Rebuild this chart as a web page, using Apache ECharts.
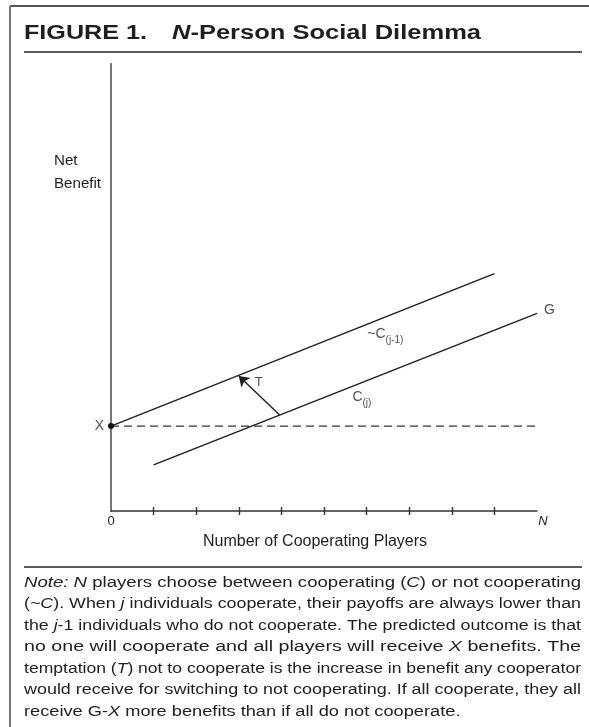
<!DOCTYPE html>
<html><head><meta charset="utf-8">
<script src="https://cdn.jsdelivr.net/npm/echarts@6/dist/echarts.min.js"></script>
<style>html,body{margin:0;padding:0;background:#fff}#c{width:589px;height:727px}</style>
</head><body><div id="c"></div>
<script>
// ---- data (chart coordinates: x = cooperating players 0..N, y = net benefit 0..100) ----
const xTickValues = [1, 2, 3, 4, 5, 6, 7, 8, 9];
const xLabelValues = [0, 10];
const xLabelText = { 0: '0', 10: '{n|N}' };
const nonCooperatorLine = [[0, 19], [9, 53.1]];   // ~C(j-1)
const cooperatorLine = [[1, 10.3], [10, 44.2]];   // C(j)
const equilibriumLine = [[0, 19], [10, 19]];      // X level (dashed)
const temptationArrow = [[3.96, 21.5], [3.0, 30.2]]; // T
const annotationNames = ['{c|~C}{s|(j-1)}', '{c|C}{s|(j)}', '{t|T}'];
const annotationPoints = [[6.44, 39.2], [5.89, 25.1], [3.47, 28.7]];
const endLabels = ['X', 'G'];
const titleLeft = 'FIGURE 1.';
const titleRight = '{i|N}-Person Social Dilemma';
const yAxisName = 'Net\nBenefit';
const xAxisName = 'Number of Cooperating Players';
const noteLines = [
  '{i|Note:} {i|N} players choose between cooperating ({i|C}) or not cooperating',
  '({i|~C}). When {i|j} individuals cooperate, their payoffs are always lower than',
  'the {i|j}-1 individuals who do not cooperate. The predicted outcome is that',
  'no one will cooperate and all players will receive {i|X} benefits. The',
  'temptation ({i|T}) not to cooperate is the increase in benefit any cooperator',
  'would receive for switching to not cooperating. If all cooperate, they all',
  'receive G-{i|X} more benefits than if all do not cooperate.'
];

const FONT = '"Liberation Sans", Arial, Helvetica, sans-serif';
const INK = '#1e1e1e';
const ctx = document.createElement('canvas').getContext('2d');
function measure(str, size, weight) {
  let w = 0; const re = /\{(\w+)\|([^}]*)\}|([^{]+)/g; let m;
  while ((m = re.exec(str))) {
    const italic = m[1] === 'i';
    const t = m[1] ? m[2] : m[3];
    ctx.font = (italic ? 'italic ' : '') + (weight || 'normal') + ' ' + size + 'px ' + FONT;
    w += ctx.measureText(t).width;
  }
  return w;
}
function stretchedText(text, x, y, size, weight, targetWidth, forcedScale) {
  const sc = forcedScale || targetWidth / measure(text, size, weight);
  return {
    type: 'text', x: x, y: y, scaleX: sc, z: 10,
    style: {
      text: text, fontSize: size, fontWeight: weight || 'normal', fontFamily: FONT,
      fill: INK, align: 'left', verticalAlign: 'middle',
      rich: { i: { fontStyle: 'italic', fontSize: size, fontWeight: weight || 'normal', fontFamily: FONT, fill: INK } }
    }
  };
}

const graphics = [];
// frame
graphics.push({ type: 'line', shape: { x1: 10, y1: 6, x2: 589, y2: 6 }, style: { stroke: '#555', lineWidth: 2 } });
graphics.push({ type: 'line', shape: { x1: 10, y1: 6, x2: 10, y2: 727 }, style: { stroke: '#777', lineWidth: 2 } });
graphics.push({ type: 'line', shape: { x1: 24, y1: 52, x2: 582, y2: 52 }, style: { stroke: '#222', lineWidth: 1.5 } });
graphics.push({ type: 'line', shape: { x1: 24, y1: 567, x2: 582, y2: 567 }, style: { stroke: '#222', lineWidth: 1.5 } });
// title
graphics.push(stretchedText(titleLeft, 24, 33, 20, 'bold', 123));
graphics.push(stretchedText(titleRight, 172, 33, 20, 'bold', 309));
// y axis name
graphics.push({
  type: 'text', x: 54, y: 173, z: 10, scaleX: 1.08,
  style: { text: yAxisName, fontSize: 14, fontFamily: FONT, fill: INK, align: 'left', verticalAlign: 'middle', lineHeight: 23 }
});
// note
const noteScales = noteLines.slice(0, 6).map(l => 557 / measure(l, 14, 'normal'));
const avgScale = noteScales.reduce((a, b) => a + b, 0) / noteScales.length;
noteLines.forEach((l, k) => {
  graphics.push(stretchedText(l, 24, 583 + 21.5 * k, 14, 'normal', 557, k === 6 ? avgScale : null));
});

const chart = echarts.init(document.getElementById('c'), null, { renderer: 'canvas' });
const baseAxis = { type: 'value', min: 0, max: 10, interval: 1, splitLine: { show: false } };
const baseY = { type: 'value', min: 0, max: 100, splitLine: { show: false }, axisTick: { show: false }, axisLabel: { show: false } };
chart.setOption({
  animation: false,
  backgroundColor: '#fff',
  grid: { left: 111, right: 52, top: 64, bottom: 216, containLabel: false },
  xAxis: [
    Object.assign({}, baseAxis, {
      position: 'bottom',
      axisLine: { show: true, lineStyle: { color: '#333', width: 1.5 } },
      axisTick: { show: true, inside: true, length: 4, customValues: xTickValues, lineStyle: { color: '#333', width: 1.4 } },
      axisLabel: {
        show: true, customValues: xLabelValues, margin: 4, fontSize: 13, fontFamily: FONT, color: INK,
        formatter: v => xLabelText[v] || '',
        rich: { n: { fontStyle: 'italic', fontSize: 13, fontFamily: FONT, color: INK, padding: [0, 0, 4, 12] } }
      },
      name: xAxisName, nameLocation: 'middle', nameGap: 23,
      nameTextStyle: { fontSize: 16, fontFamily: FONT, color: INK, padding: [0, 18, 0, 0] }
    }),
    Object.assign({}, baseAxis, {
      position: 'bottom',
      axisLine: { show: false },
      axisTick: { show: true, inside: false, length: 4, customValues: xTickValues, lineStyle: { color: '#333', width: 1.4 } },
      axisLabel: { show: false }
    })
  ],
  yAxis: [
    Object.assign({}, baseY, { position: 'left', axisLine: { show: true, lineStyle: { color: '#444', width: 1.5 } } }),
    Object.assign({}, baseY, { position: 'right', axisLine: { show: true, lineStyle: { color: '#777', width: 2 } } })
  ],
  graphic: graphics,
  series: [
    {
      type: 'line', name: '~C(j-1)', symbol: 'none',
      data: nonCooperatorLine.map((p, i) => i === 0 ? { value: p, symbol: 'circle', symbolSize: 6, itemStyle: { color: '#111' } } : p),
      showSymbol: true,
      lineStyle: { color: INK, width: 1.4 }, z: 3
    },
    {
      type: 'line', name: 'C(j)', symbol: 'none',
      data: cooperatorLine,
      lineStyle: { color: INK, width: 1.4 }, z: 3
    },
    {
      type: 'line', name: 'X', symbol: 'none',
      data: equilibriumLine,
      lineStyle: { color: '#333', width: 1.3, type: [8, 5] }, z: 2
    },
    {
      type: 'lines', coordinateSystem: 'cartesian2d', name: 'T',
      symbol: ['none', 'arrow'], symbolSize: 10,
      data: [{ coords: temptationArrow }],
      lineStyle: { color: INK, width: 1.4, opacity: 1 }, z: 4
    },
    {
      type: 'scatter', name: 'endLabels', symbolSize: 0, silent: true,
      data: [
        { value: equilibriumLine[0], name: endLabels[0], label: { position: 'left', distance: 7 } },
        { value: cooperatorLine[cooperatorLine.length - 1], name: endLabels[1], label: { position: 'right', distance: 7, offset: [0, -3] } }
      ],
      label: { show: true, formatter: p => p.name, fontSize: 14, fontFamily: FONT, color: INK }, z: 5
    },
    {
      type: 'scatter', name: 'labels', symbolSize: 0, silent: true,
      data: annotationPoints.map((p, i) => ({ value: p, name: annotationNames[i] })),
      label: {
        show: true, position: 'inside', formatter: p => p.name,
        rich: {
          c: { fontSize: 14, fontFamily: FONT, color: INK, lineHeight: 18, verticalAlign: 'top' },
          s: { fontSize: 10, fontFamily: FONT, color: INK, lineHeight: 18, verticalAlign: 'bottom' },
          t: { fontSize: 13, fontFamily: FONT, color: INK, fontWeight: 'normal' }
        }
      }, z: 5
    }
  ]
});
</script></body></html>
